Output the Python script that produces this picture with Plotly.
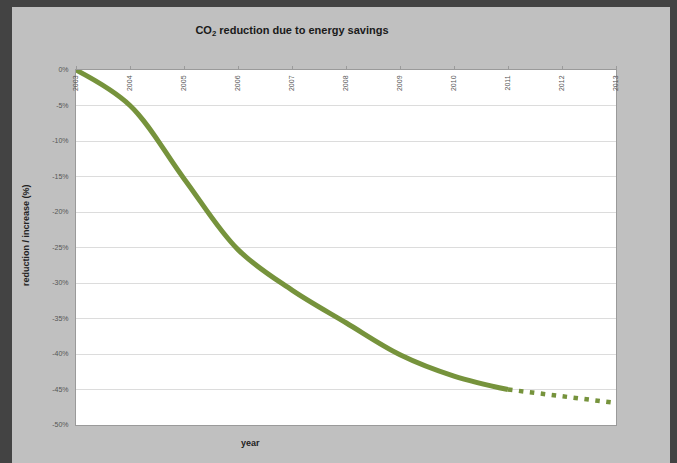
import plotly.graph_objects as go

# ---- data ----
years = [2003, 2004, 2005, 2006, 2007, 2008, 2009, 2010, 2011]
reduction = [0.0, -5.0, -15.3, -25.3, -31.0, -35.6, -40.1, -43.1, -45.0]
proj_years = [2011, 2012, 2013]
proj_reduction = [-45.0, -46.0, -46.9]

x_tick_vals = [2003, 2004, 2005, 2006, 2007, 2008, 2009, 2010, 2011, 2012, 2013]
x_tick_text = [str(v) for v in x_tick_vals]
y_tick_vals = [0, -5, -10, -15, -20, -25, -30, -35, -40, -45, -50]
y_tick_text = ["0%", "-5%", "-10%", "-15%", "-20%", "-25%", "-30%", "-35%", "-40%", "-45%", "-50%"]

title_text = "CO<sub>2</sub> reduction due to energy savings"
y_title = "reduction / increase (%)"
x_title = "year"

# ---- figure ----
W, H = 677, 463
L, R, T, B = 76, 61, 70, 38
pw, ph = W - L - R, H - T - B

def px_x(p):
    return (p - L) / pw

def px_y(p):
    return (H - B - p) / ph

green = "#76933c"
FONT = "Liberation Sans, Arial, sans-serif"

fig = go.Figure()
fig.add_trace(go.Scatter(x=years, y=reduction, mode="lines",
                         line=dict(color=green, width=5, shape="spline", smoothing=1.0),
                         hoverinfo="skip", showlegend=False))
fig.add_trace(go.Scatter(x=proj_years, y=proj_reduction, mode="lines",
                         line=dict(color=green, width=4.5, dash="4.5px,6.5px"),
                         hoverinfo="skip", showlegend=False))

fig.update_layout(
    width=W, height=H,
    margin=dict(l=L, r=R, t=T, b=B, autoexpand=False),
    paper_bgcolor="#c0c0c0",
    plot_bgcolor="#ffffff",
    font=dict(family=FONT, color="#222"),
    title=dict(text="<b>" + title_text + "</b>", x=292 / W, xanchor="center",
               y=1 - 30 / H, yanchor="middle", xref="container", yref="container",
               font=dict(size=11, color="#1a1a1a", family=FONT)),
    xaxis=dict(range=[2003, 2013], side="top", tickvals=x_tick_vals, ticktext=x_tick_text,
               tickangle=-90, ticklabelposition="inside", ticklabeloverflow="allow",
               ticks="outside", ticklen=3, tickcolor="#9a9a9a",
               tickfont=dict(size=7, color="#555", family=FONT),
               showline=True, linecolor="#9a9a9a", linewidth=1, mirror=True,
               showgrid=False, zeroline=False, fixedrange=True),
    yaxis=dict(range=[-50, 0], tickvals=y_tick_vals, ticktext=y_tick_text,
               tickfont=dict(size=7, color="#555", family=FONT), ticks="",
               ticklabelstandoff=5,
               showline=True, linecolor="#9a9a9a", linewidth=1, mirror=True,
               showgrid=True, gridcolor="#dcdcdc", gridwidth=1,
               zeroline=False, fixedrange=True),
    annotations=[
        dict(text="<b>" + y_title + "</b>", x=px_x(26), y=px_y(235), xref="paper", yref="paper",
             textangle=-90, showarrow=False, xanchor="center", yanchor="middle",
             font=dict(size=9, color="#222", family=FONT)),
        dict(text="<b>" + x_title + "</b>", x=px_x(250), y=px_y(443), xref="paper", yref="paper",
             showarrow=False, xanchor="center", yanchor="middle",
             font=dict(size=9, color="#222", family=FONT)),
    ],
    shapes=[
        dict(type="rect", xref="paper", yref="paper", x0=px_x(0), x1=px_x(12), y0=px_y(H), y1=px_y(0),
             fillcolor="#434343", line=dict(width=0), layer="below"),
        dict(type="rect", xref="paper", yref="paper", x0=px_x(0), x1=px_x(W), y0=px_y(7), y1=px_y(0),
             fillcolor="#434343", line=dict(width=0), layer="below"),
        dict(type="rect", xref="paper", yref="paper", x0=px_x(670), x1=px_x(W), y0=px_y(H), y1=px_y(0),
             fillcolor="#434343", line=dict(width=0), layer="below"),
    ],
)

fig.write_html("out.html", config={"displayModeBar": False},
               post_script="document.body.style.margin='0';document.body.style.overflow='hidden';")
